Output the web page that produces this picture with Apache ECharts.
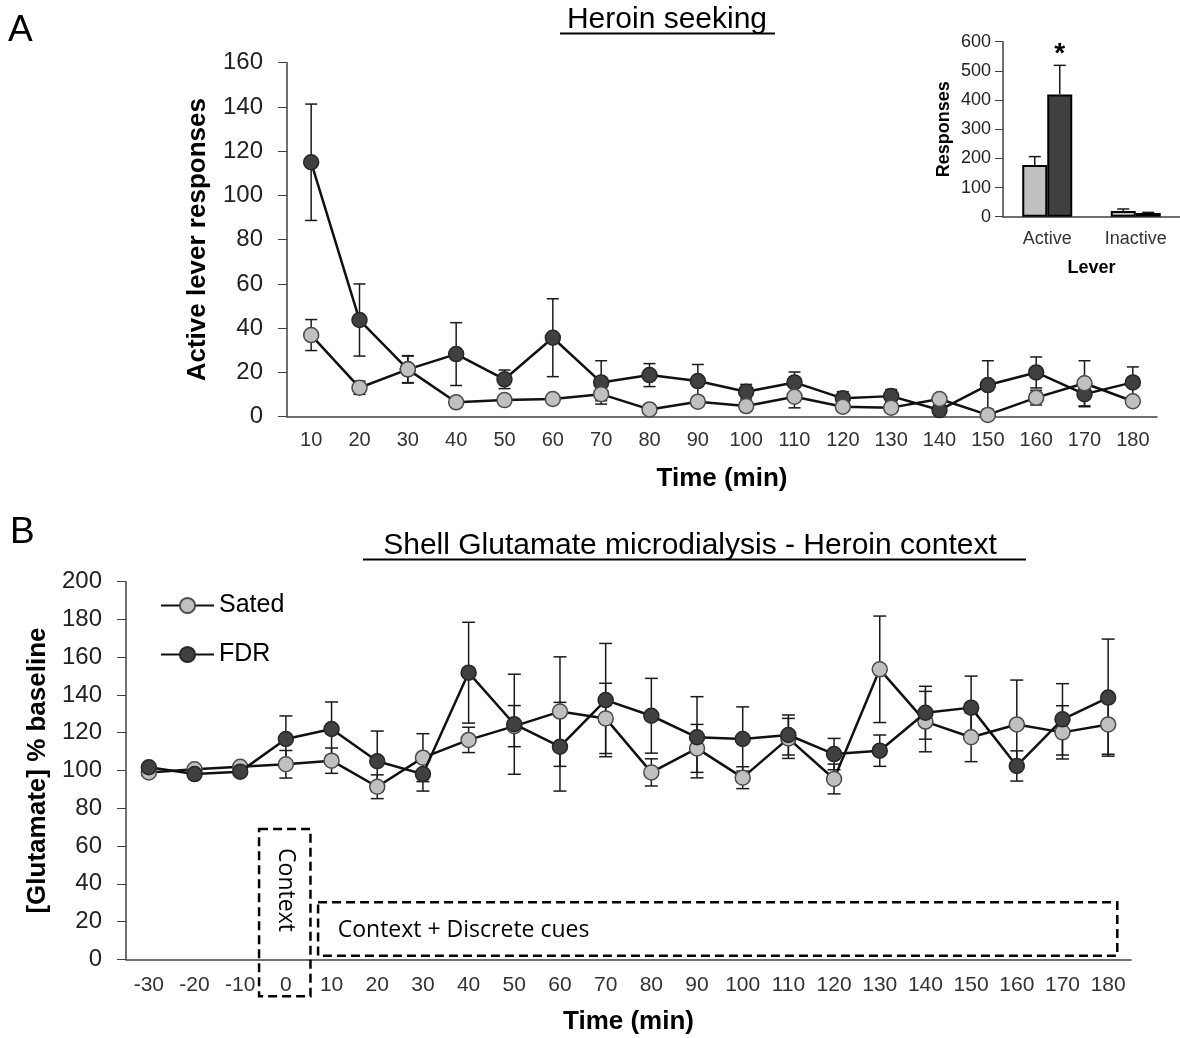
<!DOCTYPE html>
<html><head><meta charset="utf-8">
<script src="https://cdn.jsdelivr.net/npm/echarts@6/dist/echarts.min.js"></script>
<style>html,body{margin:0;padding:0;background:#fff}#c{width:1180px;height:1038px}</style>
</head><body><div id="c"></div>
<script>
// ---------- Panel A: Heroin seeking ----------
const timeA = ['10','20','30','40','50','60','70','80','90','100','110','120','130','140','150','160','170','180'];
const fdrA     = [115, 43.7, 21.4, 28.3, 16.9, 35.7, 15.5, 18.8, 16.1, 11.3, 15.5, 8.3, 9.3, 3.0, 14.3, 20.0, 10.2, 15.5];
const fdrA_se  = [26.3, 16.3, 6.2, 14.2, 4.2, 17.6, 9.8, 5.2, 7.5, 3.3, 4.7, 3.0, 3.0, 2.0, 11.0, 7.0, 5.7, 7.0];
const satedA   = [36.9, 13.1, 21.4, 6.5, 7.5, 8.0, 10.2, 3.3, 6.8, 4.8, 9.0, 4.5, 4.1, 8.0, 0.8, 8.6, 15.1, 7.0];
const satedA_se= [7.0, 3.0, 6.0, 2.0, 2.0, 2.0, 3.0, 2.0, 2.0, 2.0, 5.0, 2.0, 2.0, 2.0, 2.0, 3.3, 10.2, 2.0];

// ---------- Inset: total lever responses ----------
const leverCats     = ['Active', 'Inactive'];
const satedLever    = [177, 19.4];
const satedLever_se = [29, 7];
const fdrLever      = [419.4, 12.6];
const fdrLever_se   = [99.5, 2.3];
const fdrLeverSig   = ['*', ''];

// ---------- Panel B: Shell glutamate ----------
const timeB = ['-30','-20','-10','0','10','20','30','40','50','60','70','80','90','100','110','120','130','140','150','160','170','180'];
const satedB    = [99.0, 100.6, 102.0, 103.3, 105.2, 91.4, 106.8, 116.2, 123.5, 131.2, 127.6, 99.0, 111.7, 96.2, 117.0, 95.5, 153.6, 125.9, 117.6, 124.4, 120.2, 124.4];
const satedB_se = [1.5, 1.5, 1.5, 7.3, 6.7, 6.3, 12.7, 6.7, 10.9, 29.0, 18.6, 7.2, 12.7, 5.8, 10.6, 7.9, 28.2, 16.0, 12.9, 23.5, 14.1, 15.8];
const fdrB      = [101.7, 98.1, 99.4, 116.7, 122.0, 104.9, 98.1, 151.8, 124.5, 112.6, 137.3, 129.0, 117.6, 116.7, 118.8, 108.7, 110.5, 130.6, 133.3, 102.4, 127.1, 138.6];
const fdrB_se   = [1.5, 1.5, 1.5, 12.2, 14.3, 16.0, 9.0, 26.7, 26.5, 23.5, 30.0, 19.8, 21.5, 17.0, 10.6, 8.3, 8.3, 14.0, 16.7, 8.0, 18.9, 31.0];

const FONT = '"Liberation Sans", Arial, sans-serif';
const SATED_FILL = '#c0c0c0', SATED_EDGE = '#4a4a4a';
const FDR_FILL = '#404040', FDR_EDGE = '#262626';

function errorBars(offsetPx, capHalf, upOnly, marks) {
  return function (params, api) {
    const i = api.value(0), v = api.value(1), s = api.value(2);
    const p0 = api.coord([i, v]);
    const pt = api.coord([i, v + s]);
    const pb = upOnly ? p0 : api.coord([i, v - s]);
    const x = p0[0] + offsetPx;
    const st = { stroke: '#1a1a1a', lineWidth: 1.5 };
    const children = [
      { type: 'line', shape: { x1: x, y1: pt[1], x2: x, y2: pb[1] }, style: st },
      { type: 'line', shape: { x1: x - capHalf, y1: pt[1], x2: x + capHalf, y2: pt[1] }, style: st }
    ];
    if (!upOnly) children.push({ type: 'line', shape: { x1: x - capHalf, y1: pb[1], x2: x + capHalf, y2: pb[1] }, style: st });
    if (marks && marks[params.dataIndex]) {
      children.push({ type: 'text', style: { text: marks[params.dataIndex], x: x, y: pt[1] - 11.5,
        align: 'center', verticalAlign: 'middle', font: 'bold 28px ' + FONT, fill: '#000' } });
    }
    return { type: 'group', children: children };
  };
}
function triples(vals, ses) { return vals.map((v, i) => [i, v, ses[i]]); }

function lineSeries(name, vals, fill, edge, xi, z) {
  return {
    type: 'line', name: name, xAxisIndex: xi, yAxisIndex: xi, data: vals, z: z,
    symbol: 'circle', symbolSize: 15, showAllSymbol: true,
    lineStyle: { color: '#111', width: 2.5 },
    itemStyle: { color: fill, borderColor: edge, borderWidth: 1.5 },
    emphasis: { disabled: true }
  };
}
function errSeries(vals, ses, xi, capHalf, offset, upOnly, marks, z) {
  return {
    type: 'custom', xAxisIndex: xi, yAxisIndex: xi, data: triples(vals, ses), z: z || 2,
    encode: { x: 0, y: 1 }, renderItem: errorBars(offset || 0, capHalf, upOnly, marks), silent: true
  };
}

const axisLine = { show: true, lineStyle: { color: '#404040', width: 1.5 } };

const option = {
  animation: false,
  backgroundColor: '#fff',
  textStyle: { fontFamily: FONT },
  grid: [
    { left: 287, top: 62.7, width: 870, height: 354 },
    { left: 1003, top: 41.7, width: 177, height: 175 },
    { left: 126, top: 581.7, width: 1005, height: 377.6 }
  ],
  legend: {
    data: ['Sated', 'FDR'], orient: 'vertical', left: 155, top: 588,
    itemWidth: 53, itemHeight: 19, itemGap: 24, selectedMode: false,
    textStyle: { fontSize: 25, color: '#000', fontFamily: FONT }
  },
  xAxis: [
    { type: 'category', gridIndex: 0, data: timeA, boundaryGap: true, axisLine: axisLine,
      axisTick: { alignWithLabel: true, length: 6, lineStyle: { color: '#404040' } },
      axisLabel: { fontSize: 20, color: '#333', margin: 14, fontFamily: FONT },
      name: 'Time (min)', nameLocation: 'middle', nameGap: 49,
      nameTextStyle: { fontSize: 26, fontWeight: 'bold', color: '#000', fontFamily: FONT } },
    { type: 'category', gridIndex: 1, data: leverCats, axisLine: axisLine,
      axisTick: { alignWithLabel: true, length: 6, lineStyle: { color: '#404040' } },
      axisLabel: { fontSize: 18, color: '#333', margin: 13, fontFamily: FONT },
      name: 'Lever', nameLocation: 'middle', nameGap: 42,
      nameTextStyle: { fontSize: 18, fontWeight: 'bold', color: '#000', fontFamily: FONT } },
    { type: 'category', gridIndex: 2, data: timeB, boundaryGap: true, axisLine: axisLine,
      axisTick: { alignWithLabel: true, length: 6, lineStyle: { color: '#404040' } },
      axisLabel: { fontSize: 21, color: '#333', margin: 15, fontFamily: FONT },
      name: 'Time (min)', nameLocation: 'middle', nameGap: 50,
      nameTextStyle: { fontSize: 26, fontWeight: 'bold', color: '#000', fontFamily: FONT } }
  ],
  yAxis: [
    { type: 'value', gridIndex: 0, min: 0, max: 160, interval: 20, axisLine: axisLine,
      axisTick: { show: true, length: 9, lineStyle: { color: '#404040' } }, splitLine: { show: false },
      axisLabel: { fontSize: 24, color: '#222', margin: 24, fontFamily: FONT },
      name: 'Active lever responses', nameLocation: 'middle', nameGap: 76,
      nameTextStyle: { fontSize: 26, fontWeight: 'bold', color: '#000', fontFamily: FONT } },
    { type: 'value', gridIndex: 1, min: 0, max: 600, interval: 100, axisLine: axisLine,
      axisTick: { show: true, length: 8, lineStyle: { color: '#404040' } }, splitLine: { show: false },
      axisLabel: { fontSize: 18, color: '#222', margin: 12, fontFamily: FONT },
      name: 'Responses', nameLocation: 'middle', nameGap: 50,
      nameTextStyle: { fontSize: 18, fontWeight: 'bold', color: '#000', fontFamily: FONT } },
    { type: 'value', gridIndex: 2, min: 0, max: 200, interval: 20, axisLine: axisLine,
      axisTick: { show: true, length: 9, lineStyle: { color: '#404040' } }, splitLine: { show: false },
      axisLabel: { fontSize: 24, color: '#222', margin: 24, fontFamily: FONT },
      name: '[Glutamate] % baseline', nameLocation: 'middle', nameGap: 75,
      nameTextStyle: { fontSize: 26, fontWeight: 'bold', color: '#000', fontFamily: FONT } }
  ],
  series: [
    // Panel A
    errSeries(fdrA, fdrA_se, 0, 6, 0, false, null, 2),
    errSeries(satedA, satedA_se, 0, 6, 0, false, null, 2),
    lineSeries('FDR A', fdrA, FDR_FILL, FDR_EDGE, 0, 3),
    lineSeries('Sated A', satedA, SATED_FILL, SATED_EDGE, 0, 4),
    // Inset
    { type: 'bar', xAxisIndex: 1, yAxisIndex: 1, data: satedLever, barWidth: 25, barGap: '0%', z: 2,
      itemStyle: { color: SATED_FILL, borderColor: '#000', borderWidth: 2 }, emphasis: { disabled: true } },
    { type: 'bar', xAxisIndex: 1, yAxisIndex: 1, data: fdrLever, barWidth: 25, barGap: '0%', z: 2,
      itemStyle: { color: FDR_FILL, borderColor: '#000', borderWidth: 2 }, emphasis: { disabled: true } },
    errSeries(satedLever, satedLever_se, 1, 6, -12.5, true, null, 3),
    errSeries(fdrLever, fdrLever_se, 1, 6, 12.5, true, fdrLeverSig, 3),
    // Panel B
    errSeries(satedB, satedB_se, 2, 6.5, 0, false, null, 2),
    errSeries(fdrB, fdrB_se, 2, 6.5, 0, false, null, 2),
    lineSeries('Sated', satedB, SATED_FILL, SATED_EDGE, 2, 3),
    lineSeries('FDR', fdrB, FDR_FILL, FDR_EDGE, 2, 4)
  ],
  graphic: [
    { type: 'text', left: 8, top: 12, style: { text: 'A', font: '37px ' + FONT, fill: '#000' } },
    { type: 'text', left: 10, top: 514, style: { text: 'B', font: '37px ' + FONT, fill: '#000' } },
    { type: 'text', x: 667, y: 19.5, style: { text: 'Heroin seeking', font: '30px ' + FONT, fill: '#000', align: 'center', verticalAlign: 'middle' } },
    { type: 'line', shape: { x1: 560, y1: 33.5, x2: 775, y2: 33.5 }, style: { stroke: '#000', lineWidth: 2 } },
    { type: 'text', x: 690, y: 545.5, style: { text: 'Shell Glutamate microdialysis - Heroin context', font: '30px ' + FONT, fill: '#000', align: 'center', verticalAlign: 'middle' } },
    { type: 'line', shape: { x1: 363, y1: 559.5, x2: 1026, y2: 559.5 }, style: { stroke: '#000', lineWidth: 2 } }
  ]
};

const chart = echarts.init(document.getElementById('c'), null, { renderer: 'canvas' });
chart.setOption(option);

// ---- Annotation boxes in panel B, placed from the axes ----
function px(ci, v) { return chart.convertToPixel({ xAxisIndex: 2, yAxisIndex: 2 }, [ci, v]); }
const catW = px(4, 0)[0] - px(3, 0)[0];
const base = px(0, 0)[1];
const dash = { stroke: '#000', lineWidth: 2.5, lineDash: [9, 5], fill: null };
const b1L = px(3, 0)[0] - 0.587 * catW, b1R = px(3, 0)[0] + 0.538 * catW;
const b1T = px(3, 69)[1], b1B = base + 37;
const b2L = px(4, 0)[0] - 0.295 * catW, b2R = px(21, 0)[0] + 0.2 * catW;
const b2T = px(4, 30.2)[1], b2B = px(4, 1.9)[1];
const ctx = px(3, 36.7);
const ctx2 = px(4, 15.5);
chart.setOption({
  graphic: option.graphic.concat([
    { type: 'rect', shape: { x: b1L, y: b1T, width: b1R - b1L, height: b1B - b1T }, style: dash, z: 10 },
    { type: 'rect', shape: { x: b2L, y: b2T, width: b2R - b2L, height: b2B - b2T }, style: dash, z: 10 },
    { type: 'text', x: ctx[0], y: ctx[1], rotation: -Math.PI / 2, z: 11,
      style: { text: 'Context', font: '23px "Open Sans", sans-serif', fill: '#000', align: 'center', verticalAlign: 'middle' } },
    { type: 'text', x: ctx2[0] + 0.135 * catW, y: ctx2[1], z: 11,
      style: { text: 'Context + Discrete cues', font: '23px "Open Sans", sans-serif', fill: '#000', align: 'left', verticalAlign: 'middle' } }
  ])
}, { replaceMerge: ['graphic'] });
</script>
</body></html>
